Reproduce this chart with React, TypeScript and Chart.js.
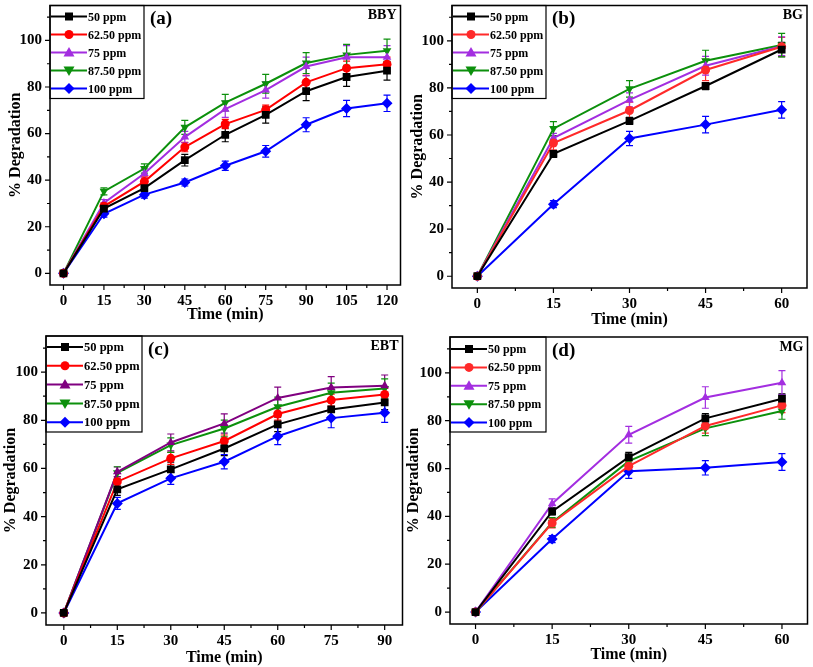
import React, { useEffect, useRef } from "react";
import { Chart, registerables } from "chart.js";
Chart.register(...registerables);

const SERIES_LABELS = ["50 ppm", "62.50 ppm", "75 ppm", "87.50 ppm", "100 ppm"];
const Y_TICKS = [0, 20, 40, 60, 80, 100];

// (a) BBY
const timeBBY = [0, 15, 30, 45, 60, 75, 90, 105, 120];
const bby50 = [0, 27.8, 36.6, 48.6, 59.5, 68, 78.2, 84.3, 87];
const bby62 = [0, 28.8, 39.4, 54.2, 64.1, 70.2, 82, 88.1, 89.8];
const bby75 = [0, 30.2, 42.9, 58.5, 70.5, 78.7, 88.8, 92.8, 92.8];
const bby87 = [0, 35.2, 45, 62.7, 73.3, 81.4, 90.3, 93.8, 95.6];
const bby100 = [0, 25.6, 33.8, 39, 46.2, 52.4, 63.8, 70.8, 73];
const bby50Err = [0, 1.5, 2, 2.5, 3, 3.5, 4, 4, 4];
const bby62Err = [0, 1.5, 2, 2, 2, 2, 3, 3, 3];
const bby75Err = [0, 1.5, 2, 2.5, 3.5, 3.5, 4, 5, 5];
const bby87Err = [0, 1.5, 2, 3, 3.5, 4, 4.5, 4.5, 5];
const bby100Err = [0, 1.5, 1.5, 1.5, 2, 2.5, 3, 3.5, 3.5];

// (b) BG
const timeBG = [0, 15, 30, 45, 60];
const bg50 = [0, 52, 66, 80.8, 96.3];
const bg62 = [0, 56.6, 70.4, 87.6, 97.5];
const bg75 = [0, 58.7, 74.9, 89.4, 97.7];
const bg87 = [0, 62.7, 79.6, 91.5, 98.2];
const bg100 = [0, 30.6, 58.5, 64.4, 70.7];
const bg50Err = [0, 1.5, 1.5, 1.5, 3];
const bg62Err = [0, 3, 3.5, 4.5, 4];
const bg75Err = [0, 2, 3, 4, 4];
const bg87Err = [0, 3, 3.5, 4.5, 5];
const bg100Err = [0, 1.5, 3, 3.5, 3.5];

// (c) EBT
const timeEBT = [0, 15, 30, 45, 60, 75, 90];
const ebt50 = [0, 51.3, 59.6, 68.3, 78.3, 84.5, 87.4];
const ebt62 = [0, 54.5, 64.2, 71.4, 82.6, 88.4, 90.7];
const ebt75 = [0, 58.6, 70.8, 78.7, 89.3, 93.6, 94.3];
const ebt87 = [0, 58.2, 69.7, 76.6, 85.6, 91.4, 93.2];
const ebt100 = [0, 45.5, 55.9, 62.8, 73.4, 80.9, 83.1];
const ebt50Err = [0, 2.5, 3, 3, 3, 3, 3];
const ebt62Err = [0, 2, 2.5, 2.5, 2.5, 2.5, 2.5];
const ebt75Err = [0, 2, 3.5, 4, 4.5, 4.5, 4.5];
const ebt87Err = [0, 2.5, 3, 3.5, 4, 4, 4];
const ebt100Err = [0, 2.5, 2.5, 3, 3.5, 4, 4];

// (d) MG
const timeMG = [0, 15, 30, 45, 60];
const mg50 = [0, 42.1, 64.8, 81, 89.2];
const mg62 = [0, 37.2, 61, 77.8, 86.4];
const mg75 = [0, 45.3, 74.1, 89.7, 95.9];
const mg87 = [0, 37.5, 63.1, 76.8, 84.1];
const mg100 = [0, 30.5, 58.9, 60.3, 62.7];
const mg50Err = [0, 1.5, 2, 2, 2];
const mg62Err = [0, 2, 2, 3, 3];
const mg75Err = [0, 2, 3.5, 4.5, 5];
const mg87Err = [0, 2, 2.5, 3, 3.5];
const mg100Err = [0, 1.5, 3, 3, 3.5];

const FONT = "'Liberation Serif', 'Times New Roman', serif";
const MARKERS = ["square", "circle", "triangle", "triangleDown", "diamond"];
const STYLE_MAP: any = {
  square: { pointStyle: "rect", pointRotation: 0, r: 5.5 },
  circle: { pointStyle: "circle", pointRotation: 0, r: 4.5 },
  triangle: { pointStyle: "triangle", pointRotation: 0, r: 5 },
  triangleDown: { pointStyle: "triangle", pointRotation: 180, r: 5 },
  diamond: { pointStyle: "rectRot", pointRotation: 0, r: 5.5 },
};

type Panel = {
  letter: string;
  name: string;
  times: number[];
  series: number[][];
  errors: number[][];
  colors: string[];
  box: [number, number, number, number];
  yW: number;
  xH: number;
  padTop: number;
  padRight: number;
  yTitlePad: number;
  xTitlePad: number;
  legend: { w: number; h: number; first: number; step: number; font: number };
};

const PANELS: Panel[] = [
  {
    letter: "(a)", name: "BBY", times: timeBBY,
    series: [bby50, bby62, bby75, bby87, bby100],
    errors: [bby50Err, bby62Err, bby75Err, bby87Err, bby100Err],
    colors: ["#000000", "#ff0000", "#a32ee0", "#0c900c", "#0000ff"],
    box: [0, 0, 406, 330], yW: 50, xH: 45, padTop: 3, padRight: 3, yTitlePad: 6, xTitlePad: 6,
    legend: { w: 94, h: 93, first: 11, step: 18, font: 12 },
  },
  {
    letter: "(b)", name: "BG", times: timeBG,
    series: [bg50, bg62, bg75, bg87, bg100],
    errors: [bg50Err, bg62Err, bg75Err, bg87Err, bg100Err],
    colors: ["#000000", "#ff2a2a", "#a32ee0", "#0c900c", "#0000ff"],
    box: [404, 0, 409, 330], yW: 48, xH: 42, padTop: 4, padRight: 6, yTitlePad: 4, xTitlePad: 1,
    legend: { w: 94, h: 93, first: 11, step: 18, font: 12 },
  },
  {
    letter: "(c)", name: "EBT", times: timeEBT,
    series: [ebt50, ebt62, ebt75, ebt87, ebt100],
    errors: [ebt50Err, ebt62Err, ebt75Err, ebt87Err, ebt100Err],
    colors: ["#000000", "#ff0000", "#800080", "#0c900c", "#0000ff"],
    box: [0, 330, 408, 337], yW: 46, xH: 42, padTop: 6, padRight: 1, yTitlePad: 1, xTitlePad: 0,
    legend: { w: 96, h: 96, first: 11, step: 18.8, font: 12.5 },
  },
  {
    letter: "(d)", name: "MG", times: timeMG,
    series: [mg50, mg62, mg75, mg87, mg100],
    errors: [mg50Err, mg62Err, mg75Err, mg87Err, mg100Err],
    colors: ["#000000", "#ff2a2a", "#a32ee0", "#0c900c", "#0000ff"],
    box: [402, 330, 411, 337], yW: 48, xH: 43, padTop: 7, padRight: 5, yTitlePad: 2, xTitlePad: 3,
    legend: { w: 96, h: 95, first: 12, step: 18.4, font: 12 },
  },
];

function drawMarker(ctx: CanvasRenderingContext2D, kind: string, x: number, y: number, color: string) {
  ctx.save();
  ctx.fillStyle = color;
  ctx.beginPath();
  if (kind === "square") {
    ctx.rect(x - 4, y - 4, 8, 8);
  } else if (kind === "circle") {
    ctx.arc(x, y, 4.5, 0, Math.PI * 2);
  } else if (kind === "triangle") {
    ctx.moveTo(x, y - 5.5);
    ctx.lineTo(x + 5.5, y + 4);
    ctx.lineTo(x - 5.5, y + 4);
    ctx.closePath();
  } else if (kind === "triangleDown") {
    ctx.moveTo(x, y + 5.5);
    ctx.lineTo(x + 5.5, y - 4);
    ctx.lineTo(x - 5.5, y - 4);
    ctx.closePath();
  } else {
    ctx.moveTo(x, y - 5.5);
    ctx.lineTo(x + 5.5, y);
    ctx.lineTo(x, y + 5.5);
    ctx.lineTo(x - 5.5, y);
    ctx.closePath();
  }
  ctx.fill();
  ctx.restore();
}

const panelPlugin = {
  id: "panelDeco",
  beforeDatasetsDraw(chart: any, _args: any, opts: any) {
    const p: Panel = opts.panel;
    const ctx = chart.ctx;
    const ys = chart.scales.y;
    ctx.save();
    p.series.forEach((vals, i) => {
      const meta = chart.getDatasetMeta(i);
      ctx.strokeStyle = p.colors[i];
      ctx.lineWidth = 1.2;
      vals.forEach((v, j) => {
        const e = p.errors[i][j];
        if (!e) return;
        const x = meta.data[j].x;
        const y0 = ys.getPixelForValue(v - e);
        const y1 = ys.getPixelForValue(v + e);
        ctx.beginPath();
        ctx.moveTo(x, y0);
        ctx.lineTo(x, y1);
        ctx.moveTo(x - 3.5, y0);
        ctx.lineTo(x + 3.5, y0);
        ctx.moveTo(x - 3.5, y1);
        ctx.lineTo(x + 3.5, y1);
        ctx.stroke();
      });
    });
    ctx.restore();
  },
  afterDraw(chart: any, _args: any, opts: any) {
    const p: Panel = opts.panel;
    const ctx = chart.ctx;
    const { left, top, right, bottom } = chart.chartArea;
    const xs = chart.scales.x;
    const ys = chart.scales.y;
    ctx.save();
    ctx.strokeStyle = "#000";
    ctx.lineWidth = 1.5;
    ctx.strokeRect(left, top, right - left, bottom - top);
    ctx.lineWidth = 1.2;
    ctx.beginPath();
    const xmax = p.times[p.times.length - 1];
    for (let v = 0; v <= xmax + 0.01; v += 7.5) {
      const major = Math.abs(v / 15 - Math.round(v / 15)) < 1e-6;
      const x = xs.getPixelForValue(v);
      ctx.moveTo(x, bottom);
      ctx.lineTo(x, bottom + (major ? 5 : 3));
    }
    for (let v = 0; v <= 110; v += 10) {
      const major = v % 20 === 0;
      const y = ys.getPixelForValue(v);
      ctx.moveTo(left, y);
      ctx.lineTo(left - (major ? 5 : 3), y);
    }
    ctx.stroke();
    const lg = p.legend;
    ctx.lineWidth = 1.2;
    ctx.strokeStyle = "#000";
    ctx.strokeRect(left, top, lg.w, lg.h);
    ctx.font = `bold ${lg.font}px ${FONT}`;
    ctx.textBaseline = "middle";
    ctx.textAlign = "left";
    SERIES_LABELS.forEach((label, i) => {
      const y = top + lg.first + i * lg.step;
      ctx.strokeStyle = p.colors[i];
      ctx.lineWidth = 2;
      ctx.beginPath();
      ctx.moveTo(left + 1, y);
      ctx.lineTo(left + 37, y);
      ctx.stroke();
      drawMarker(ctx, MARKERS[i], left + 19, y, p.colors[i]);
      ctx.fillStyle = "#000";
      ctx.fillText(label, left + 38, y + 1);
    });
    ctx.fillStyle = "#000";
    ctx.font = `bold 19px ${FONT}`;
    ctx.fillText(p.letter, left + lg.w + 6, top + 14);
    ctx.font = `bold 14px ${FONT}`;
    ctx.textAlign = "right";
    ctx.fillText(p.name, right - 4, top + 10);
    ctx.restore();
  },
};

function zeroPad(s: any) {
  s.paddingTop = 0;
  s.paddingBottom = 0;
  s.paddingLeft = 0;
  s.paddingRight = 0;
}

function PanelChart({ p }: { p: Panel }) {
  const ref = useRef<HTMLCanvasElement | null>(null);
  useEffect(() => {
    if (!ref.current) return;
    const xmax = p.times[p.times.length - 1];
    const tickFont = { family: FONT, size: 15, weight: "bold" as const };
    const chart = new Chart(ref.current, {
      type: "line",
      data: {
        datasets: p.series.map((vals, i) => {
          const st = STYLE_MAP[MARKERS[i]];
          return {
            label: SERIES_LABELS[i],
            data: p.times.map((t, j) => ({ x: t, y: vals[j] })),
            borderColor: p.colors[i],
            backgroundColor: p.colors[i],
            borderWidth: 2,
            pointStyle: st.pointStyle,
            pointRotation: st.pointRotation,
            pointRadius: st.r,
            pointBorderWidth: 0,
            tension: 0,
          };
        }),
      },
      options: {
        responsive: false,
        maintainAspectRatio: false,
        animation: false,
        layout: { padding: { top: p.padTop, right: p.padRight, left: 0, bottom: 0 } },
        plugins: {
          legend: { display: false },
          tooltip: { enabled: false },
          panelDeco: { panel: p },
        } as any,
        scales: {
          x: {
            type: "linear",
            min: -5,
            max: xmax + 5,
            afterFit: (s: any) => { s.height = p.xH; zeroPad(s); },
            afterBuildTicks: (s: any) => { s.ticks = p.times.map((v) => ({ value: v })); },
            ticks: { font: tickFont, color: "#000", padding: 7, maxRotation: 0, autoSkip: false },
            grid: { display: false, drawTicks: false },
            border: { display: false },
            title: {
              display: true,
              text: "Time (min)",
              color: "#000",
              font: { family: FONT, size: 16, weight: "bold" },
              padding: { top: 0, bottom: p.xTitlePad },
            },
          },
          y: {
            type: "linear",
            min: -5,
            max: 115,
            afterFit: (s: any) => { s.width = p.yW; zeroPad(s); },
            afterBuildTicks: (s: any) => { s.ticks = Y_TICKS.map((v) => ({ value: v })); },
            ticks: { font: tickFont, color: "#000", padding: 8, autoSkip: false },
            grid: { display: false, drawTicks: false },
            border: { display: false },
            title: {
              display: true,
              text: "% Degradation",
              color: "#000",
              font: { family: FONT, size: 16, weight: "bold" },
              padding: { top: p.yTitlePad, bottom: 0 },
            },
          },
        },
      } as any,
      plugins: [panelPlugin],
    });
    return () => chart.destroy();
  }, [p]);
  const [x, y, w, h] = p.box;
  return (
    <canvas
      ref={ref}
      width={w}
      height={h}
      style={{ position: "absolute", left: x, top: y, width: w, height: h }}
    />
  );
}

export default function App() {
  return (
    <div style={{ position: "fixed", left: 0, top: 0, width: 813, height: 667, background: "#fff", overflow: "hidden" }}>
      {PANELS.map((p) => (
        <PanelChart key={p.letter} p={p} />
      ))}
    </div>
  );
}
